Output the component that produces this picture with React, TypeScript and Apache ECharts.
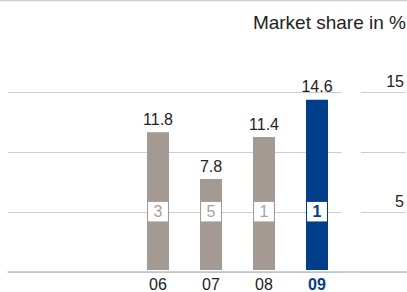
import React, { useEffect, useRef } from "react";
import * as echarts from "echarts";

const categories = ["06", "07", "08", "09"];
const shareValues = [11.8, 7.8, 11.4, 14.6];
const ranks = [3, 5, 1, 1];
const rankLevel = 5;
const yTicks = [0, 5, 10, 15];
const shownTickLabels = [5, 15];
const titleText = "Market share in %";

const GRAY = "#a59a93";
const BLUE = "#003e8a";
const RANK_GRAY = "#aaa29d";
const GRID_C = "#c9ced3";
const FONT = "'Liberation Sans', Arial, sans-serif";

export default function App() {
  const ref = useRef<HTMLDivElement>(null);
  useEffect(() => {
    if (!ref.current) return;
    const chart = echarts.init(ref.current, undefined, { renderer: "svg" });
    const last = categories.length - 1;
    const yMax = yTicks[yTicks.length - 1];
    const option: any = {
      animation: false,
      textStyle: { fontFamily: FONT },
      title: {
        text: titleText,
        right: 1,
        top: 13,
        padding: 0,
        textStyle: { fontFamily: FONT, fontSize: 19, fontWeight: "normal", color: "#222" },
      },
      graphic: [
        {
          type: "line",
          shape: { x1: 0, y1: 0.5, x2: 407, y2: 0.5 },
          style: { stroke: GRID_C, lineWidth: 1.5 },
          silent: true,
        },
      ],
      grid: [
        { left: 8, right: 0, top: 92, bottom: 20 },
        { left: 8, width: 334, top: 92, bottom: 20 },
        { left: 361, right: 0, top: 92, bottom: 20 },
        { left: 131.5, width: 212, top: 95, bottom: 20 },
      ],
      xAxis: [
        {
          gridIndex: 0, type: "value", min: 0, max: 1,
          axisLine: { show: true, lineStyle: { color: "#bcc2c8", width: 1.5 } },
          axisTick: { show: false }, axisLabel: { show: false }, splitLine: { show: false },
        },
        { gridIndex: 1, type: "value", min: 0, max: 1, show: false },
        { gridIndex: 2, type: "value", min: 0, max: 1, show: false },
        {
          gridIndex: 3, type: "category", data: categories,
          axisLine: { show: false }, axisTick: { show: false },
          axisLabel: {
            interval: 0,
            margin: 6,
            fontSize: 16,
            fontFamily: FONT,
            color: "#222",
            formatter: (v: string, i: number) => (i === last ? `{hl|${v}}` : v),
            rich: { hl: { color: BLUE, fontWeight: "bold", fontSize: 16, fontFamily: FONT } },
          },
        },
      ],
      yAxis: [
        { gridIndex: 0, type: "value", min: 0, max: yMax, show: false },
        {
          gridIndex: 1, type: "value", min: 0, max: yMax, interval: 5,
          axisLine: { show: false }, axisTick: { show: false }, axisLabel: { show: false },
          splitLine: { show: true, lineStyle: { color: GRID_C, width: 1.2 } },
        },
        {
          gridIndex: 2, type: "value", min: 0, max: yMax, interval: 5, position: "right",
          axisLine: { show: false }, axisTick: { show: false },
          axisLabel: {
            inside: true, margin: 2, fontSize: 16, fontFamily: FONT, color: "#222",
            verticalAlign: "bottom", padding: [0, 0, 3, 0],
            formatter: (v: number) => (shownTickLabels.includes(v) ? String(v) : ""),
          },
          splitLine: { show: true, lineStyle: { color: GRID_C, width: 1.2 } },
        },
        { gridIndex: 3, type: "value", min: 0, max: yMax, show: false },
      ],
      series: [
        {
          type: "bar",
          xAxisIndex: 3,
          yAxisIndex: 3,
          barWidth: 22,
          data: shareValues.map((v, i) => ({
            value: v,
            itemStyle: { color: i === last ? BLUE : GRAY },
          })),
          label: {
            show: true, position: "top", distance: 5,
            fontSize: 16, fontFamily: FONT, color: "#222",
            formatter: (p: any) => p.value.toFixed(1),
          },
          z: 2,
        },
        {
          type: "scatter",
          xAxisIndex: 3,
          yAxisIndex: 3,
          symbolSize: 2,
          itemStyle: { color: "rgba(255,255,255,0)", opacity: 1 },
          data: ranks.map((r, i) => ({
            value: [i, rankLevel],
            label: {
              formatter: String(r),
              color: i === last ? BLUE : RANK_GRAY,
              fontWeight: i === last ? "bold" : "normal",
            },
          })),
          label: {
            show: true, position: "inside",
            fontSize: 16, fontFamily: FONT, lineHeight: 16, opacity: 1,
            backgroundColor: "#fff", padding: [2, 5.5, 1.5, 5.5],
          },
          z: 5,
        },
      ],
    };
    chart.setOption(option);
    return () => chart.dispose();
  }, []);
  return (
    <div
      ref={ref}
      style={{ position: "fixed", left: 0, top: 0, width: 407, height: 292, background: "#fff" }}
    />
  );
}
